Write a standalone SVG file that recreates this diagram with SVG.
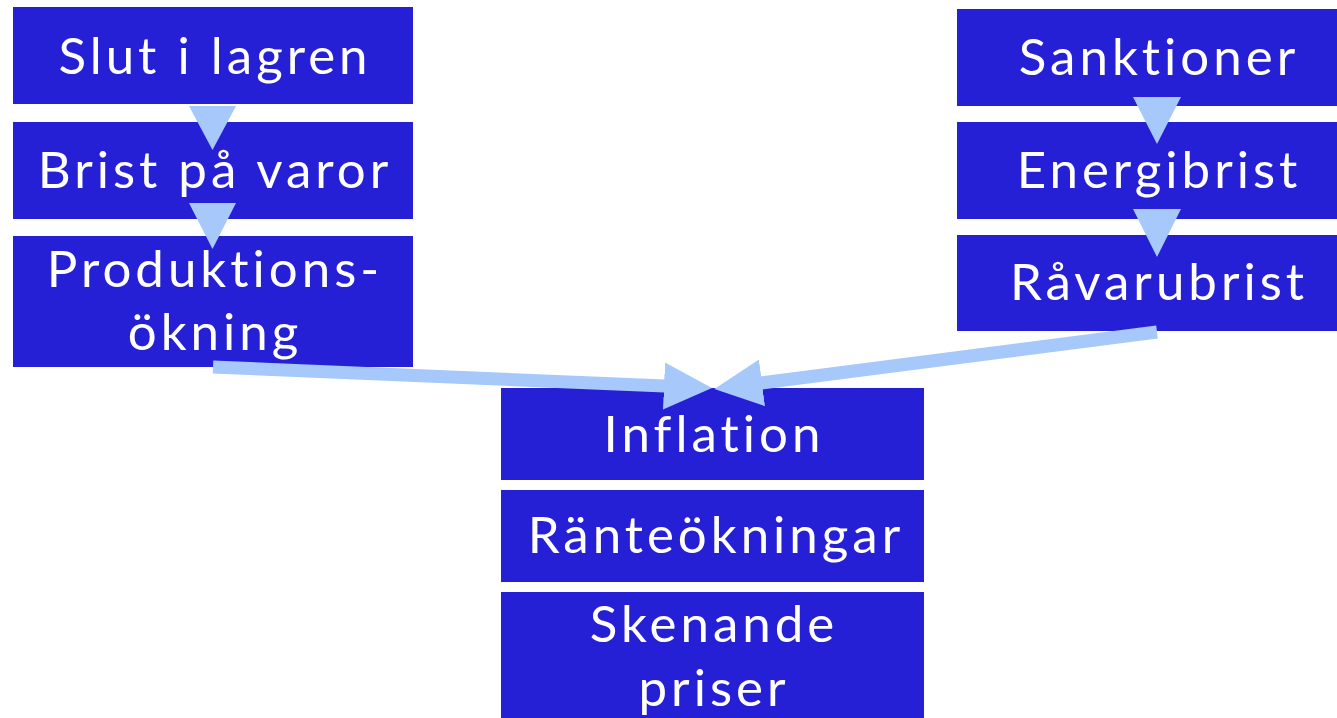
<svg xmlns="http://www.w3.org/2000/svg" width="1337" height="718" viewBox="0 0 1337 718">
<style>
.box{fill:#2520D6}
.lbl{fill:#ffffff;font-family:"Lato","Noto Sans",sans-serif;font-size:51px;letter-spacing:4px;text-anchor:middle}
.con{stroke:#A6C8FA;stroke-width:13;fill:none}
.tri{fill:#A6C8FA}
</style>
<defs>
<marker id="ah" markerUnits="userSpaceOnUse" markerWidth="50" markerHeight="48" refX="1" refY="23.5" orient="auto">
<path d="M0,0 L48,23.5 L0,47 z" fill="#A6C8FA"/>
</marker>
</defs>
<rect width="1337" height="718" fill="#ffffff"/>
<g id="node-slut"><rect class="box" x="13" y="7" width="400" height="97"/><text class="lbl" x="215" y="74">Slut i lagren</text></g>
<g id="node-brist"><rect class="box" x="13" y="122" width="400" height="97"/><text class="lbl" x="215" y="188">Brist på varor</text></g>
<g id="node-produktion"><rect class="box" x="13" y="236" width="400" height="131"/><text class="lbl" x="215" y="287">Produktions-</text><text class="lbl" x="215" y="350">ökning</text></g>
<g id="node-sanktioner"><rect class="box" x="957" y="9" width="380" height="97"/><text class="lbl" x="1159" y="75">Sanktioner</text></g>
<g id="node-energibrist"><rect class="box" x="957" y="122" width="380" height="97"/><text class="lbl" x="1159" y="188">Energibrist</text></g>
<g id="node-ravarubrist"><rect class="box" x="957" y="235" width="380" height="96"/><text class="lbl" x="1159" y="300">Råvarubrist</text></g>
<g id="node-inflation"><rect class="box" x="501" y="388" width="423" height="92"/><text class="lbl" x="714" y="452">Inflation</text></g>
<g id="node-rante"><rect class="box" x="501" y="490" width="423" height="92"/><text class="lbl" x="716" y="553">Ränteökningar</text></g>
<g id="node-skenande"><rect class="box" x="501" y="592" width="423" height="126"/><text class="lbl" x="714" y="642">Skenande</text><text class="lbl" x="714" y="706">priser</text></g>
<g id="connectors">
<polygon class="tri" points="189,106 236,106 212.5,150"/>
<polygon class="tri" points="189,203 236,203 212.5,249"/>
<polygon class="tri" points="1133,97 1181,97 1157,144"/>
<polygon class="tri" points="1133,209 1181,209 1157,257"/>
<line class="con" x1="213" y1="367" x2="665" y2="386" marker-end="url(#ah)"/>
<line class="con" x1="1157" y1="332" x2="761" y2="383" marker-end="url(#ah)"/>
</g>
</svg>
